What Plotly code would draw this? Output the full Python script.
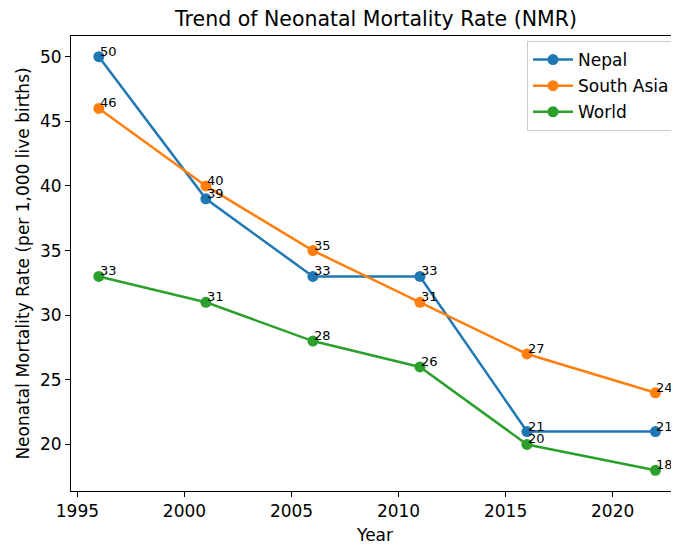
import plotly.graph_objects as go

# Veriler
years = [1996, 2001, 2006, 2011, 2016, 2022]
nepal = [50, 39, 33, 33, 21, 21]
south_asia = [46, 40, 35, 31, 27, 24]
world = [33, 31, 28, 26, 20, 18]

series = [
    ("Nepal", nepal, "#1f77b4"),
    ("South Asia", south_asia, "#ff7f0e"),
    ("World", world, "#2ca02c"),
]

FONT = "DejaVu Sans"
# sayfa gövdesinin 8px kenar boşluğu hesaba katıldı
W, H = 671, 539
ML, MT, MB = 63, 28, 56

fig = go.Figure()
for name, vals, color in series:
    fig.add_trace(go.Scatter(
        x=years, y=vals, name=name, mode="lines+markers",
        legendgroup=name,
        line=dict(color=color, width=2.5),
        marker=dict(color=color, size=11),
    ))
    # değer etiketleri (noktanın sağ üstünde)
    for x, y in zip(years, vals):
        fig.add_annotation(
            x=x, y=y, text=str(y), showarrow=False,
            xanchor="left", yanchor="bottom", xshift=-1, yshift=-4,
            font=dict(family=FONT, size=13, color="black"),
        )

plot_w = W - ML
plot_h = H - MT - MB
fig.update_layout(
    width=W, height=H,
    paper_bgcolor="white", plot_bgcolor="white",
    margin=dict(l=ML, r=0, t=MT, b=MB),
    font=dict(family=FONT, size=17, color="black"),
    title=dict(
        text="Trend of Neonatal Mortality Rate (NMR)",
        x=368 / W, xanchor="center",
        y=1 - 11 / H, yanchor="middle",
        font=dict(family=FONT, size=20.5, color="black"),
    ),
    legend=dict(
        x=(667 - ML) / plot_w, xanchor="right", y=1 - 5 / plot_h, yanchor="top",
        bordercolor="#cccccc", borderwidth=1, bgcolor="rgba(255,255,255,0.8)",
        font=dict(family=FONT, size=17, color="black"),
        itemwidth=40, tracegroupgap=1, traceorder="grouped",
    ),
    showlegend=True,
)

fig.update_xaxes(
    range=[1994.7, 2023.1], tickmode="array", tickvals=[1995, 2000, 2005, 2010, 2015, 2020],
    showline=True, linecolor="black", linewidth=1, mirror=True,
    ticks="outside", ticklen=5, tickcolor="black", showgrid=False, zeroline=False,
    tickfont=dict(family=FONT, size=17),
    title=dict(text="Year", font=dict(family=FONT, size=17), standoff=8),
)
fig.update_yaxes(
    range=[16.4, 51.6], tickmode="array", tickvals=[20, 25, 30, 35, 40, 45, 50],
    showline=True, linecolor="black", linewidth=1, mirror=False,
    ticks="outside", ticklen=5, tickcolor="black", showgrid=False, zeroline=False,
    tickfont=dict(family=FONT, size=17),
    title=dict(text="Neonatal Mortality Rate (per 1,000 live births)", font=dict(family=FONT, size=17), standoff=6),
)

fig.write_html("out.html")
